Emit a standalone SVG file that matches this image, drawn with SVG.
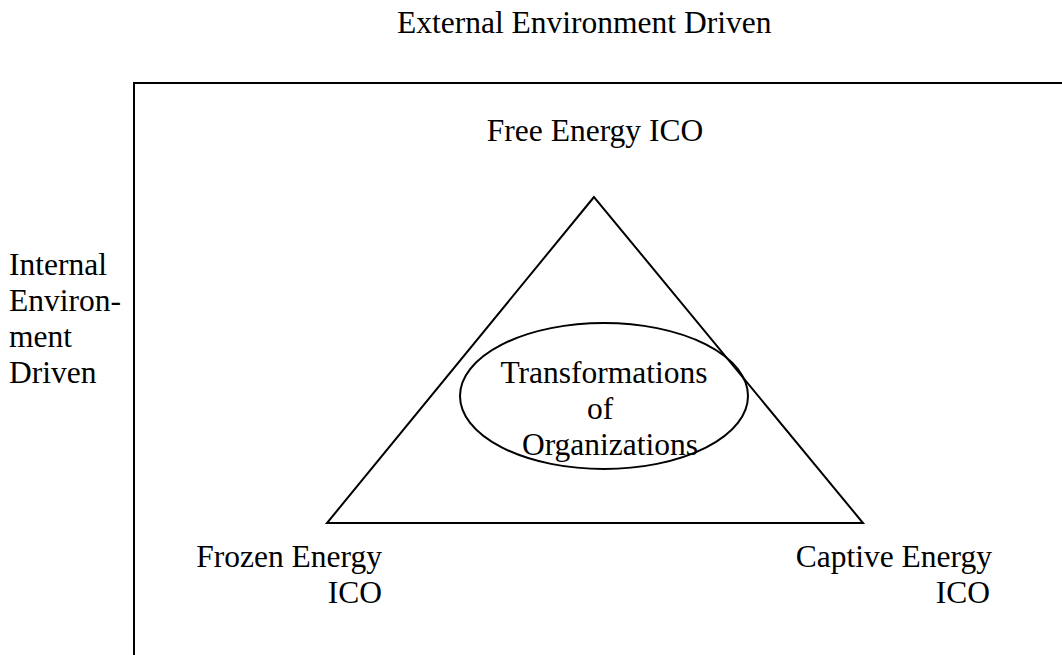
<svg xmlns="http://www.w3.org/2000/svg" width="1062" height="655" viewBox="0 0 1062 655">
<style>
text{font-family:"Liberation Serif","Times New Roman",serif;font-size:31.5px;fill:#000}
.ln{fill:none;stroke:#000;stroke-width:2}
</style>
<rect width="1062" height="655" fill="#fff"/>
<g id="frame"><path class="ln" d="M134,700 V83 H1100" stroke="#1a1a1a" stroke-width="2.5"/></g>
<g id="title-top"><text x="397" y="33">External Environment Driven</text></g>
<g id="title-left">
<text x="9" y="275">Internal</text>
<text x="9" y="311">Environ-</text>
<text x="9" y="347">ment</text>
<text x="9" y="383">Driven</text>
</g>
<g id="connectors">
<polygon class="ln" points="594,197 327,523 863,523"/>
</g>
<g id="free"><text x="595" y="141" text-anchor="middle">Free Energy ICO</text></g>
<g id="frozen">
<text x="382" y="567" text-anchor="end">Frozen Energy</text>
<text x="382" y="603" text-anchor="end">ICO</text>
</g>
<g id="captive">
<text x="992" y="567" text-anchor="end">Captive Energy</text>
<text x="990" y="603" text-anchor="end">ICO</text>
</g>
<g id="center">
<ellipse class="ln" cx="604" cy="396" rx="144" ry="73"/>
<text x="604" y="383" text-anchor="middle">Transformations</text>
<text x="600" y="419" text-anchor="middle">of</text>
<text x="610" y="455" text-anchor="middle">Organizations</text>
</g>
</svg>
